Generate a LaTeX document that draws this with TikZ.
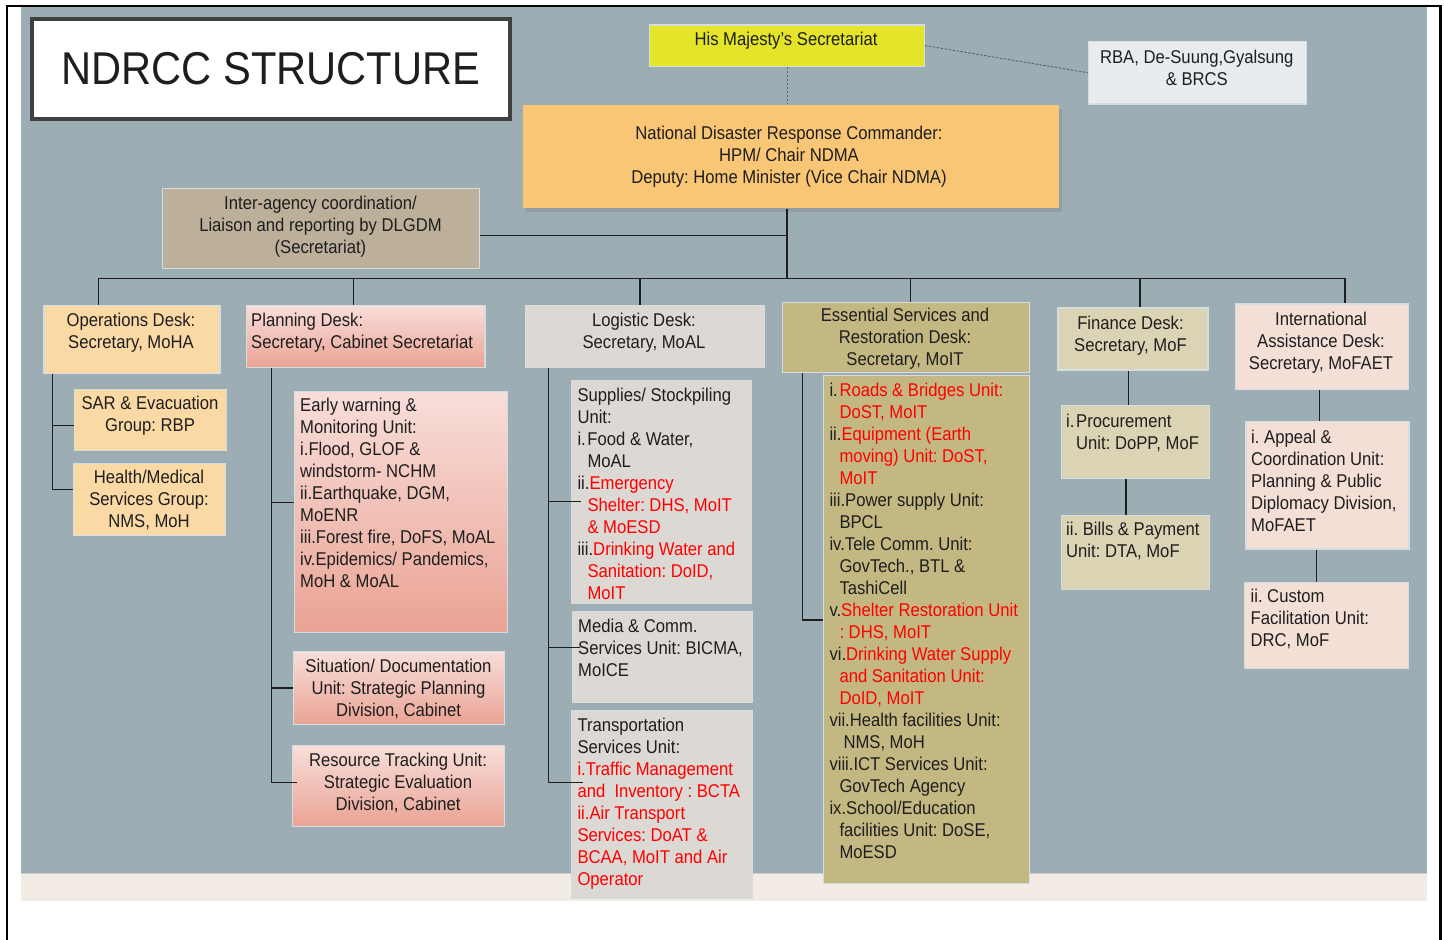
\documentclass[tikz,border=0pt]{standalone}
\usepackage{fontspec}
\setmainfont[FakeStretch=0.9]{Liberation Sans}
\newfontfamily\titlefont[FakeStretch=0.905]{Liberation Sans}
\usetikzlibrary{shadows}

\definecolor{slate}{HTML}{9CAEB4}
\definecolor{strip}{HTML}{F2ECE5}
\definecolor{stripline}{HTML}{C8CDCF}
\definecolor{ink}{HTML}{1E1E1E}
\definecolor{edge}{HTML}{D6DDE0}
\definecolor{dashgray}{HTML}{56636B}
\definecolor{hmyellow}{HTML}{E4E428}
\definecolor{rbafill}{HTML}{E9ECEE}
\definecolor{ndrcfill}{HTML}{F9C676}
\definecolor{interfill}{HTML}{BCB09A}
\definecolor{opsfill}{HTML}{FBD9A5}
\definecolor{plantop}{HTML}{F8DEDA}
\definecolor{planbot}{HTML}{EAA394}
\definecolor{logifill}{HTML}{DCD9D4}
\definecolor{essfill}{HTML}{C4B882}
\definecolor{finfill}{HTML}{DBD4B4}
\definecolor{intlfill}{HTML}{F4DFD6}

\newcommand{\rd}[1]{\textcolor{red}{#1}}
\newcommand{\indt}{\hspace*{10pt}}
\frenchspacing

\tikzset{
  box/.style={draw=edge, line width=1.2pt, inner sep=0pt, anchor=north west},
  planbox/.style={box, top color=plantop, bottom color=planbot},
  ctext/.style={inner sep=0pt, align=center, anchor=north, text=ink},
  ltext/.style={inner sep=0pt, align=left, anchor=north west, text=ink},
  link/.style={draw=ink, line width=1.5pt},
  dashlink/.style={draw=dashgray, line width=0.9pt, dash pattern=on 2.5pt off 1.5pt}
}

\begin{document}
\begin{tikzpicture}[x=1pt, y=-1pt, every node/.style={font=\fontsize{18.5}{22}\selectfont}]
  \useasboundingbox (0,0) rectangle (1444,940);
  \fill[white] (0,0) rectangle (1444,940);

  % slide background
  \fill[slate] (21,7) rectangle (1427,873);
  \fill[strip] (21,873) rectangle (1427,900.5);
  \draw[stripline, line width=1.2pt] (21,873.5) -- (1427,873.5);
  \draw[black, line width=2.2pt] (7,940) -- (7,6) -- (1440.5,6) -- (1440.5,940);

  % title
  \node[box, draw=black!75, line width=3.5pt, fill=white, minimum width=478pt, minimum height=100pt] (tbox) at (30,17) {};
  \node[inner sep=0pt, text=ink, font=\titlefont\fontsize{46}{50}\selectfont] (title) at (tbox.center) {NDRCC STRUCTURE};

  % top of the chain
  \node[box, fill=hmyellow, minimum width=274.7pt, minimum height=41.4pt] (hm) at (649,24.3) {};
  \node[box, fill=rbafill, minimum width=217.6pt, minimum height=62.3pt] (rba) at (1088,41) {};
  \node[box, draw=none, fill=ndrcfill, minimum width=536pt, minimum height=103.3pt,
        drop shadow={shadow xshift=3pt, shadow yshift=-4pt, opacity=0.35}] (ndrc) at (522,104) {};
  \node[box, fill=interfill, minimum width=317pt, minimum height=80pt] (inter) at (162,187.7) {};

  % desks
  \node[box, fill=opsfill, minimum width=176pt, minimum height=67.7pt] (ops) at (43.3,305) {};
  \node[planbox, minimum width=238.6pt, minimum height=61.7pt] (plan) at (245.7,305) {};
  \node[box, fill=logifill, minimum width=239pt, minimum height=62pt] (logi) at (525,305) {};
  \node[box, fill=essfill, minimum width=247.3pt, minimum height=70.3pt] (ess) at (781.7,301.7) {};
  \node[box, fill=finfill, minimum width=150pt, minimum height=62pt] (fin) at (1057.4,307.3) {};
  \node[box, fill=intlfill, minimum width=172.5pt, minimum height=85.7pt] (intl) at (1235,303.3) {};

  % units
  \node[box, fill=opsfill, minimum width=152pt, minimum height=61.3pt] (sar) at (74,388.7) {};
  \node[box, fill=opsfill, minimum width=152pt, minimum height=72pt] (hlth) at (73,463) {};
  \node[planbox, minimum width=212.7pt, minimum height=241pt] (early) at (294,390.7) {};
  \node[planbox, minimum width=211pt, minimum height=73.3pt] (sit) at (293,650.7) {};
  \node[planbox, minimum width=212pt, minimum height=81pt] (res) at (292,745) {};
  \node[box, fill=logifill, minimum width=180pt, minimum height=223pt] (sup) at (571,380) {};
  \node[box, fill=logifill, minimum width=180pt, minimum height=90.7pt] (media) at (572,611) {};
  \node[box, fill=logifill, minimum width=181pt, minimum height=187.7pt] (trans) at (571,710) {};
  \node[box, fill=essfill, minimum width=206pt, minimum height=507.7pt] (esl) at (823,375) {};
  \node[box, fill=finfill, minimum width=148pt, minimum height=73pt] (proc) at (1061,405) {};
  \node[box, fill=finfill, minimum width=148pt, minimum height=74pt] (bill) at (1061,515) {};
  \node[box, fill=intlfill, minimum width=163pt, minimum height=127.6pt] (appeal) at (1245.4,420.7) {};
  \node[box, fill=intlfill, minimum width=163.5pt, minimum height=86pt] (custom) at (1244,581.7) {};

  % dashed links
  \draw[dashlink] (hm.south) -- (hm.south |- ndrc.north);
  \draw[dashlink] (hm.east) -- (rba.west);

  % main bus
  \coordinate (hub) at (787,278.3);
  \draw[link] (ndrc.south -| hub) -- (hub);
  \draw[link] ([yshift=-7.3pt]inter.east) -- ([yshift=-7.3pt]inter.east -| hub);
  \draw[link] (98.7,278.3) -- (1345,278.3);
  \foreach \x/\d in {98.7/ops, 353.5/plan, 640/logi, 910.7/ess, 1140/fin, 1345/intl}
    \draw[link] (\x,278.3) coordinate (drop) -- (drop |- \d.north);

  % spines to the units
  \coordinate (opsx) at (52.3,0);
  \draw[link] (ops.south -| opsx) |- ([yshift=-5.6pt]sar.west);
  \draw[link] (ops.south -| opsx) |- ([yshift=10pt]hlth.west);
  \coordinate (planx) at (271.5,0);
  \draw[link] (plan.south -| planx) |- ([yshift=9.2pt]early.west);
  \draw[link] (plan.south -| planx) |- (sit.west);
  \draw[link] (plan.south -| planx) |- ([xshift=5pt, yshift=3.5pt]res.west);
  \coordinate (logix) at (548.5,0);
  \draw[link] (logi.south -| logix) |- ([xshift=10pt, yshift=-9.2pt]sup.west);
  \draw[link] (logi.south -| logix) |- ([xshift=8pt, yshift=9.7pt]media.west);
  \draw[link] (logi.south -| logix) |- ([xshift=12pt, yshift=22pt]trans.west);
  \coordinate (essx) at (802.7,0);
  \draw[link] (ess.south -| essx) |- ([yshift=9.5pt]esl.west);
  \draw[link] ([xshift=-4.4pt]fin.south) -- ([xshift=-4.4pt]fin.south |- proc.north);
  \draw[link] ([xshift=-9.6pt]proc.south) -- ([xshift=-9.6pt]proc.south |- bill.north);
  \draw[link] ([xshift=-2.2pt]intl.south) -- ([xshift=-2.2pt]intl.south |- appeal.north);
  \draw[link] ([xshift=-11.2pt]appeal.south) -- ([xshift=-11.2pt]appeal.south |- custom.north);

  % texts
  \node[ctext] (hm-t) at (786,32.3) {His Majesty’s Secretariat};
  \node[ctext] (rba-t) at (1196.8,49.7) {RBA, De-Suung,Gyalsung\\\& BRCS};
  \node[ctext] (ndrc-t) at (789,126.3) {National Disaster Response Commander:\\HPM/ Chair NDMA\\Deputy: Home Minister (Vice Chair NDMA)};
  \node[ctext] (inter-t) at (320.5,196) {Inter-agency coordination/\\Liaison and reporting by DLGDM\\(Secretariat)};

  \node[ctext] (ops-t) at (131,313) {Operations Desk:\\Secretary, MoHA};
  \node[ctext] (sar-t) at (150,396) {SAR \& Evacuation\\Group: RBP};
  \node[ctext] (hlth-t) at (149,469.7) {Health/Medical\\Services Group:\\NMS, MoH};

  \node[ltext] (plan-t) at (251,313) {Planning Desk:\\Secretary, Cabinet Secretariat};
  \node[ltext] (early-t) at (300,398) {Early warning \&\\Monitoring Unit:\\i.Flood, GLOF \&\\windstorm- NCHM\\ii.Earthquake, DGM,\\MoENR\\iii.Forest fire, DoFS, MoAL\\iv.Epidemics/ Pandemics,\\MoH \& MoAL};
  \node[ctext] (sit-t) at (398.5,659) {Situation/ Documentation\\Unit: Strategic Planning\\Division, Cabinet};
  \node[ctext] (res-t) at (398,753) {Resource Tracking Unit:\\Strategic Evaluation\\Division, Cabinet};

  \node[ctext] (logi-t) at (644,313) {Logistic Desk:\\Secretary, MoAL};
  \node[ltext] (sup-t) at (577.3,388) {Supplies/ Stockpiling\\Unit:\\\makebox[10pt][l]{i.}Food \& Water,\\\indt MoAL\\ii.\rd{Emergency}\\\indt\rd{Shelter: DHS, MoIT}\\\indt\rd{\& MoESD}\\iii.\rd{Drinking Water and}\\\indt\rd{Sanitation: DoID,}\\\indt\rd{MoIT}};
  \node[ltext] (media-t) at (578,619) {Media \& Comm.\\Services Unit: BICMA,\\MoICE};
  \node[ltext] (trans-t) at (577.3,718) {Transportation\\Services Unit:\\\rd{i.Traffic Management}\\\rd{and\ \ Inventory : BCTA}\\\rd{ii.Air Transport}\\\rd{Services: DoAT \&}\\\rd{BCAA, MoIT and Air}\\\rd{Operator}};

  \node[ctext] (ess-t) at (905,308) {Essential Services and\\Restoration Desk:\\Secretary, MoIT};
  \node[ltext] (esl-t) at (829.3,383) {\makebox[10pt][l]{i.}\rd{Roads \& Bridges Unit:}\\\indt\rd{DoST, MoIT}\\ii.\rd{Equipment (Earth}\\\indt\rd{moving) Unit: DoST,}\\\indt\rd{MoIT}\\iii.Power supply Unit:\\\indt BPCL\\iv.Tele Comm. Unit:\\\indt GovTech., BTL \&\\\indt TashiCell\\v.\rd{Shelter Restoration Unit}\\\indt\rd{: DHS, MoIT}\\vi.\rd{Drinking Water Supply}\\\indt\rd{and Sanitation Unit:}\\\indt\rd{DoID, MoIT}\\vii.Health facilities Unit:\\\hspace*{14pt}NMS, MoH\\viii.ICT Services Unit:\\\indt GovTech Agency\\ix.School/Education\\\indt facilities Unit: DoSE,\\\indt MoESD};

  \node[ctext] (fin-t) at (1130.5,315.7) {Finance Desk:\\Secretary, MoF};
  \node[ltext] (proc-t) at (1066,413.7) {\makebox[10pt][l]{i.}Procurement\\\indt Unit: DoPP, MoF};
  \node[ltext] (bill-t) at (1066,522.3) {ii. Bills \& Payment\\Unit: DTA, MoF};

  \node[ctext] (intl-t) at (1321,312.3) {International\\Assistance Desk:\\Secretary, MoFAET};
  \node[ltext] (appeal-t) at (1251,429.7) {i. Appeal \&\\Coordination Unit:\\Planning \& Public\\Diplomacy Division,\\MoFAET};
  \node[ltext] (custom-t) at (1250.4,589) {ii. Custom\\Facilitation Unit:\\DRC, MoF};
\end{tikzpicture}
\end{document}
